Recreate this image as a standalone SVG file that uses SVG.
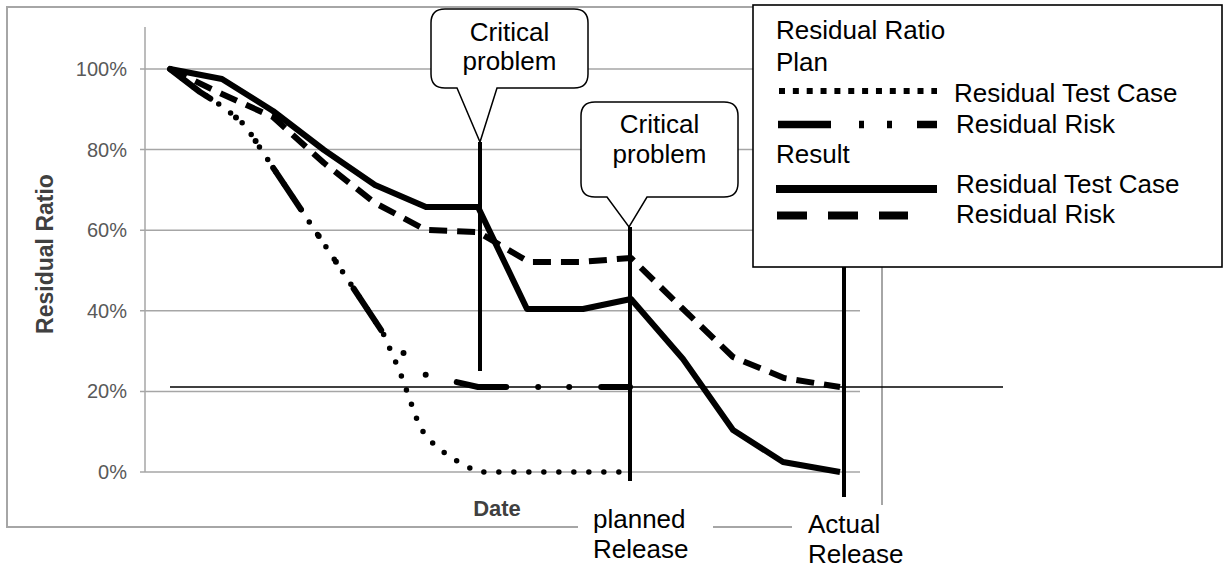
<svg xmlns="http://www.w3.org/2000/svg" width="1223" height="567" viewBox="0 0 1223 567">
<style>
text{font-family:"Liberation Sans",Arial,sans-serif;}
.grid{stroke:#a6a6a6;stroke-width:1.5;fill:none;}
.ylab{font-size:20px;fill:#595959;text-anchor:end;}
.big{font-size:26px;fill:#000;}
.mid{text-anchor:middle;}
.res{fill:none;stroke:#000;stroke-width:6;stroke-linejoin:round;}
.callout{fill:#fff;stroke:#000;stroke-width:1.5;}
.vline{stroke:#000;stroke-width:4;}
</style>
<rect width="1223" height="567" fill="#fff"/>
<g id="chart-frame">
<rect x="7" y="7" width="875" height="520" fill="#fff" stroke="#a6a6a6" stroke-width="2"/>
</g>
<g id="axes">
<line class="grid" x1="145" y1="27" x2="145" y2="472"/>
<line class="grid" x1="140" y1="69" x2="860" y2="69"/>
<line class="grid" x1="140" y1="149.6" x2="860" y2="149.6"/>
<line class="grid" x1="140" y1="230.2" x2="860" y2="230.2"/>
<line class="grid" x1="140" y1="310.8" x2="860" y2="310.8"/>
<line class="grid" x1="140" y1="391.4" x2="860" y2="391.4"/>
<line class="grid" x1="140" y1="472" x2="860" y2="472"/>
<text class="ylab" x="127" y="76">100%</text>
<text class="ylab" x="127" y="156.6">80%</text>
<text class="ylab" x="127" y="237.2">60%</text>
<text class="ylab" x="127" y="317.8">40%</text>
<text class="ylab" x="127" y="398.4">20%</text>
<text class="ylab" x="127" y="479">0%</text>
<text transform="translate(53,254) rotate(-90)" text-anchor="middle" font-size="23" font-weight="bold" fill="#404040">Residual Ratio</text>
<text x="497" y="516" text-anchor="middle" font-size="22" font-weight="bold" fill="#404040">Date</text>
</g>
<g id="series">
<path id="plan-testcase" fill="none" stroke="#000" stroke-width="5.5" stroke-linecap="round" stroke-dasharray="0 15" d="M170,69 L200,92 L222,106 L245,125 L270,163 L300,208 L350,283 L383,333 L400,372 L420,428 L436,447 L460,463 L478,472 L630,472"/>
<path id="plan-risk" fill="none" stroke="#000" stroke-width="6" stroke-linecap="round" stroke-linejoin="round" stroke-dasharray="50 32 0 31 0 32" d="M170,69 L200,92 L222,106 L245,125 L270,163 L300,208 L350,283 L383,333 L426,375 L478,387 L630,387"/>
<path id="result-risk" class="res" stroke-dasharray="18 10" d="M170,69 L222,94 L273,117 L324,163 L375,203 L426,230 L478,232 L529,262 L580,262 L631,258 L682,308 L733,357 L784,378 L840,387"/>
<path id="result-testcase" class="res" d="M170,69 L222,79 L273,111 L324,150 L375,185 L426,207 L478,207 L527,309 L583,309 L631,299 L683,359 L733,430 L783,462 L840,472"/>
</g>
<g id="markers">
<line x1="170" y1="387" x2="1003" y2="387" stroke="#000" stroke-width="1.7"/>
<line class="vline" x1="480" y1="142" x2="480" y2="371"/>
<line class="vline" x1="630" y1="227" x2="630" y2="481"/>
<line class="vline" x1="844" y1="260" x2="844" y2="497"/>
</g>
<g id="callout-1">
<path class="callout" d="M445,9 H574 Q588,9 588,23 V74 Q588,88 574,88 H497 L480,142 L457,88 H445 Q431,88 431,74 V23 Q431,9 445,9 Z"/>
<text class="big mid" x="509.5" y="41">Critical</text>
<text class="big mid" x="509.5" y="70">problem</text>
</g>
<g id="callout-2">
<path class="callout" d="M595,102 H724 Q738,102 738,116 V183 Q738,197 724,197 H647 L629,227 L607,197 H595 Q581,197 581,183 V116 Q581,102 595,102 Z"/>
<text class="big mid" x="659.5" y="133">Critical</text>
<text class="big mid" x="659.5" y="163">problem</text>
</g>
<g id="legend">
<rect x="753" y="5" width="469" height="262" fill="#fff" stroke="#000" stroke-width="1.6"/>
<text class="big" x="776" y="39">Residual Ratio</text>
<text class="big" x="776" y="71">Plan</text>
<line x1="779" y1="91" x2="937" y2="91" stroke="#000" stroke-width="6" stroke-dasharray="6 7.85"/>
<text class="big" x="954" y="102">Residual Test Case</text>
<line x1="778" y1="124.5" x2="937" y2="124.5" stroke="#000" stroke-width="7.5" stroke-dasharray="53 28 5 23 5 25"/>
<text class="big" x="956" y="133">Residual Risk</text>
<text class="big" x="776" y="163">Result</text>
<line x1="776" y1="189" x2="937" y2="189" stroke="#000" stroke-width="8"/>
<text class="big" x="956" y="193">Residual Test Case</text>
<line x1="777" y1="215.5" x2="908" y2="215.5" stroke="#000" stroke-width="8" stroke-dasharray="30 21"/>
<text class="big" x="956" y="223">Residual Risk</text>
</g>
<g id="label-planned">
<rect x="578" y="503" width="135" height="64" fill="#fff"/>
<text class="big" x="593" y="528">planned</text>
<text class="big" x="593" y="558">Release</text>
</g>
<g id="label-actual">
<rect x="792" y="505" width="120" height="62" fill="#fff"/>
<text class="big" x="808" y="533">Actual</text>
<text class="big" x="808" y="563">Release</text>
</g>
</svg>
